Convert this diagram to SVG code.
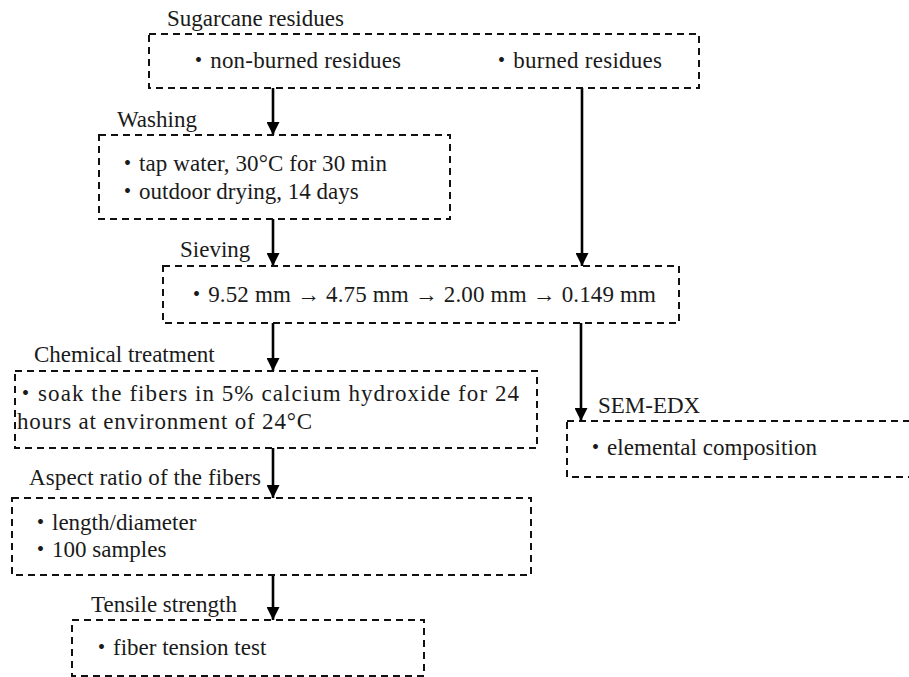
<svg xmlns="http://www.w3.org/2000/svg" width="909" height="677" viewBox="0 0 909 677">
  <style>
    .box { fill: none; stroke: #111; stroke-width: 2; stroke-dasharray: 7 5; }
    .t { font-family: "Liberation Serif", "Noto Sans CJK JP", serif; font-size: 23px; fill: #1a1a1a; }
    .link { stroke: #000; stroke-width: 2.6; fill: none; marker-end: url(#head); }
  </style>
  <defs>
    <marker id="head" viewBox="0 0 10 10" refX="10" refY="5" markerUnits="userSpaceOnUse" markerWidth="13" markerHeight="13" orient="auto">
      <path d="M0,0 L10,5 L0,10 z" fill="#000"/>
    </marker>
  </defs>
  <rect width="909" height="677" fill="#fff"/>

  <!-- connectors -->
  <g id="connectors">
    <line class="link" x1="273" y1="88" x2="273" y2="135"/>
    <line class="link" x1="273" y1="219" x2="273" y2="266"/>
    <line class="link" x1="582" y1="88" x2="582" y2="266"/>
    <line class="link" x1="273" y1="323" x2="273" y2="371"/>
    <line class="link" x1="581" y1="323" x2="581" y2="421"/>
    <line class="link" x1="273" y1="448" x2="273" y2="498"/>
    <line class="link" x1="273" y1="575" x2="273" y2="620"/>
  </g>

  <g id="residues">
    <text class="t" x="167" y="26">Sugarcane residues</text>
    <rect class="box" x="149" y="34" width="550" height="54"/>
    <text class="t" x="187" y="68" textLength="214" lengthAdjust="spacing">・non-burned residues</text>
    <text class="t" x="490" y="68" textLength="172" lengthAdjust="spacing">・burned residues</text>
  </g>

  <g id="washing">
    <text class="t" x="117" y="127">Washing</text>
    <rect class="box" x="99" y="135" width="351" height="84"/>
    <text class="t" x="116" y="171" textLength="271" lengthAdjust="spacing">・tap water, 30°C for 30 min</text>
    <text class="t" x="116" y="199">・outdoor drying, 14 days</text>
  </g>

  <g id="sieving">
    <text class="t" x="180" y="257">Sieving</text>
    <rect class="box" x="163" y="266" width="516" height="57"/>
    <text class="t" x="185" y="302" textLength="471" lengthAdjust="spacing">・9.52 mm → 4.75 mm → 2.00 mm → 0.149 mm</text>
  </g>

  <g id="chemical">
    <text class="t" x="34" y="362">Chemical treatment</text>
    <rect class="box" x="15" y="371" width="522" height="77"/>
    <text class="t" x="14" y="401" textLength="505" lengthAdjust="spacing">・soak the fibers in 5% calcium hydroxide for 24</text>
    <text class="t" x="17" y="429" textLength="295" lengthAdjust="spacing">hours at environment of 24°C</text>
  </g>

  <g id="semedx">
    <text class="t" x="598" y="413">SEM-EDX</text>
    <rect class="box" x="567" y="421" width="350" height="56"/>
    <text class="t" x="584" y="455" textLength="233" lengthAdjust="spacing">・elemental composition</text>
  </g>

  <g id="aspect">
    <text class="t" x="29" y="485" textLength="232" lengthAdjust="spacing">Aspect ratio of the fibers</text>
    <rect class="box" x="12" y="498" width="519" height="77"/>
    <text class="t" x="29" y="530">・length/diameter</text>
    <text class="t" x="29" y="557">・100 samples</text>
  </g>

  <g id="tensile">
    <text class="t" x="91" y="612">Tensile strength</text>
    <rect class="box" x="72" y="620" width="352" height="56"/>
    <text class="t" x="90" y="655">・fiber tension test</text>
  </g>
</svg>
